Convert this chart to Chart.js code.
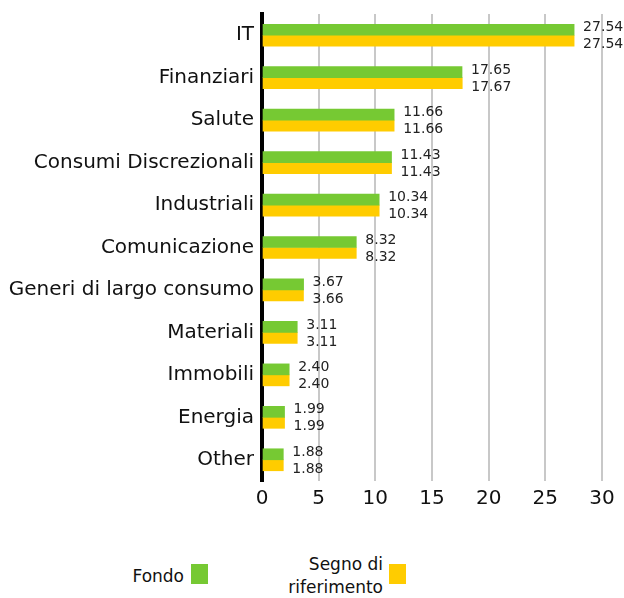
<!DOCTYPE html>
<html>
<head>
<meta charset="utf-8">
<script src="https://cdn.jsdelivr.net/npm/chart.js@4"></script>
<style>
  body { margin: 0; background: #fff; font-family: "DejaVu Sans", sans-serif; }
  #wrap { position: relative; width: 624px; height: 598px; }
  canvas { position: absolute; left: 0; top: 0; }
  .lg { position: absolute; font-size: 17px; color: #111; text-align: right; line-height: 23px; }
  .box { position: absolute; width: 17px; height: 20px; }
</style>
</head>
<body>
<div id="wrap">
  <canvas id="chart" width="624" height="520"></canvas>
  <div class="lg" style="right:440px; top:565px;">Fondo</div>
  <div class="box" style="left:191px; top:564px; background:#76c933;"></div>
  <div class="lg" style="right:241px; top:553px;">Segno di<br>riferimento</div>
  <div class="box" style="left:389px; top:564px; background:#ffcc00;"></div>
</div>
<script>
const categories = ["IT", "Finanziari", "Salute", "Consumi Discrezionali", "Industriali",
  "Comunicazione", "Generi di largo consumo", "Materiali", "Immobili", "Energia", "Other"];
const fondo = [27.54, 17.65, 11.66, 11.43, 10.34, 8.32, 3.67, 3.11, 2.40, 1.99, 1.88];
const benchmark = [27.54, 17.67, 11.66, 11.43, 10.34, 8.32, 3.66, 3.11, 2.40, 1.99, 1.88];
const xTicks = [0, 5, 10, 15, 20, 25, 30];

const FONT = "'DejaVu Sans', sans-serif";

// value labels next to each bar: fund slightly above, benchmark slightly below
const valueLabels = {
  id: "valueLabels",
  afterDatasetsDraw(chart) {
    const ctx = chart.ctx;
    ctx.save();
    ctx.font = "14px " + FONT;
    ctx.fillStyle = "#222";
    ctx.textBaseline = "middle";
    ctx.textAlign = "left";
    chart.data.datasets.forEach((ds, i) => {
      const dy = i === 0 ? -2 : 4;
      chart.getDatasetMeta(i).data.forEach((bar, j) => {
        ctx.fillText(ds.data[j].toFixed(2), bar.x + 9, bar.y + dy);
      });
    });
    ctx.restore();
  },
};

new Chart(document.getElementById("chart"), {
  type: "bar",
  data: {
    labels: categories,
    datasets: [
      { label: "Fondo", data: fondo, backgroundColor: "#76c933", barThickness: 11 },
      { label: "Segno di riferimento", data: benchmark, backgroundColor: "#ffcc00", barThickness: 11 },
    ],
  },
  options: {
    indexAxis: "y",
    responsive: false,
    animation: false,
    layout: { padding: { top: 14, right: 22, left: 0, bottom: 0 } },
    plugins: { legend: { display: false }, tooltip: { enabled: false } },
    scales: {
      x: {
        min: 0,
        max: 30,
        afterBuildTicks: (s) => { s.ticks = xTicks.map((v) => ({ value: v })); },
        afterFit: (s) => { s.height = 39; s.paddingLeft = 0; s.paddingRight = 0; },
        ticks: { color: "#111", font: { family: FONT, size: 20 }, padding: 6 },
        grid: { color: "#c8c8c8", lineWidth: 2, drawTicks: false },
        border: { display: false },
      },
      y: {
        afterFit: (s) => { s.width = 262; s.paddingTop = 0; s.paddingBottom = 0; },
        ticks: { color: "#111", font: { family: FONT, size: 20 }, padding: 8 },
        grid: { display: false, drawTicks: false },
        border: { color: "#000", width: 4 },
      },
    },
  },
  plugins: [valueLabels],
});
</script>
</body>
</html>
